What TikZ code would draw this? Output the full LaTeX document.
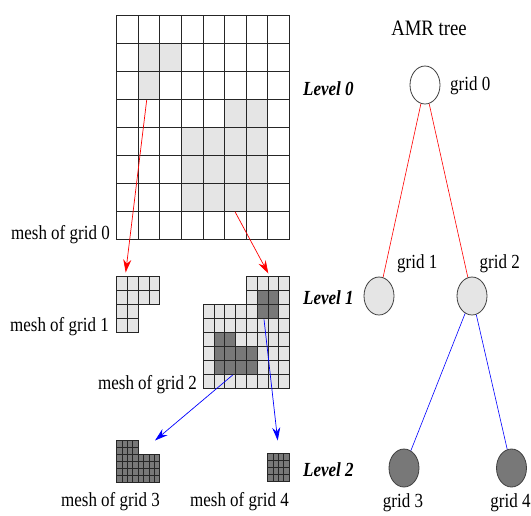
\documentclass[tikz,border=0pt]{standalone}
\usepackage{fontspec}
\setmainfont[FakeStretch=0.85]{Liberation Serif}
\usetikzlibrary{positioning,shapes.geometric,arrows.meta}

\definecolor{lightcell}{gray}{0.9}
\definecolor{darkcell}{gray}{0.47}

\tikzstyle{meshline}=[draw=black!85, line width=0.9pt]
\tikzstyle{treenode}=[draw=black!75, line width=0.8pt, ellipse, minimum width=30pt, minimum height=38pt, inner sep=0pt]
\tikzstyle{lbl}=[font=\fontsize{20}{24}\selectfont, inner sep=0pt]
\tikzstyle{lvl}=[font=\fontsize{20}{24}\selectfont\bfseries\itshape, inner sep=0pt]
\tikzstyle{refine}=[line width=0.7pt, -{Stealth[length=13pt, width=8pt]}]

\begin{document}
\begin{tikzpicture}[x=1pt, y=-1pt]
  \useasboundingbox (0,0) rectangle (531,515);

  % level 0 mesh
  \begin{scope}[shift={(116.7,15.7)}]
    \foreach \c/\r in {1/1,2/1,1/2,5/3,6/3,3/4,4/4,5/4,6/4,3/5,4/5,5/5,6/5,3/6,4/6,5/6,6/6}
      \fill[lightcell] (\c*21.6,\r*28) rectangle ++(21.6,28);
    \foreach \c in {0,...,7}
      \foreach \r in {0,...,7}
        \draw[meshline] (\c*21.6,\r*28) rectangle ++(21.6,28);
  \end{scope}

  % level 1 meshes
  \begin{scope}[shift={(116.7,276)}]
    \foreach \c in {0,...,3}
      \foreach \r in {0,1}
        \filldraw[meshline, fill=lightcell] (\c*10.8,\r*14) rectangle ++(10.8,14);
    \foreach \c in {0,1}
      \foreach \r in {2,3}
        \filldraw[meshline, fill=lightcell] (\c*10.8,\r*14) rectangle ++(10.8,14);
  \end{scope}

  \begin{scope}[shift={(203.3,276)}]
    \foreach \c in {4,...,7}
      \foreach \r in {0,1}
        \filldraw[meshline, fill=lightcell] (\c*10.8,\r*14) rectangle ++(10.8,14);
    \foreach \c in {0,...,7}
      \foreach \r in {2,...,7}
        \filldraw[meshline, fill=lightcell] (\c*10.8,\r*14) rectangle ++(10.8,14);
    \foreach \c/\r in {5/1,6/1,5/2,6/2,1/4,2/4,1/5,2/5,3/5,4/5,1/6,2/6,3/6,4/6}
      \filldraw[meshline, fill=darkcell] (\c*10.8,\r*14) rectangle ++(10.8,14);
  \end{scope}

  % level 2 meshes
  \begin{scope}[shift={(116.7,440.7)}]
    \foreach \c in {0,...,3}
      \foreach \r in {0,1}
        \filldraw[meshline, fill=darkcell] (\c*5.4,\r*7) rectangle ++(5.4,7);
    \foreach \c in {0,...,7}
      \foreach \r in {2,...,5}
        \filldraw[meshline, fill=darkcell] (\c*5.4,\r*7) rectangle ++(5.4,7);
  \end{scope}

  \begin{scope}[shift={(267.7,453.3)}]
    \foreach \c in {0,...,3}
      \foreach \r in {0,...,3}
        \filldraw[meshline, fill=darkcell] (\c*5.4,\r*7) rectangle ++(5.4,7);
  \end{scope}

  % mesh labels
  \node (m0) [lbl, anchor=base east] at (110,239.3) {mesh of grid 0};
  \node (m1) [lbl, anchor=base east] at (109,331.7) {mesh of grid 1};
  \node (m2) [lbl, anchor=base east] at (197,389) {mesh of grid 2};
  \node (m3) [lbl, anchor=base east] at (160,506.5) {mesh of grid 3};
  \node (m4) [lbl, anchor=base east] at (289,506.5) {mesh of grid 4};

  % refinement arrows
  \coordinate (r1s) at (146.7,100);
  \coordinate (r1e) at (125.7,272.5);
  \coordinate (r2s) at (235,211.7);
  \coordinate (r2e) at (268.3,273.5);
  \coordinate (r3s) at (232.7,375);
  \coordinate (r3e) at (155,440.5);
  \coordinate (r4s) at (264,319.3);
  \coordinate (r4e) at (277.7,440.5);
  \draw [refine, red] (r1s) -- (r1e);
  \draw [refine, red] (r2s) -- (r2e);
  \draw [refine, blue] (r3s) -- (r3e);
  \draw [refine, blue] (r4s) -- (r4e);

  % level labels
  \node (lv0) [lvl, anchor=west] at (303,89) {Level 0};
  \node (lv1) [lvl, anchor=west] at (303,297.5) {Level 1};
  \node (lv2) [lvl, anchor=west] at (303,470) {Level 2};

  % AMR tree
  \node (title) [lbl, font=\fontsize{22}{26}\selectfont, anchor=base] at (429,35) {AMR tree};
  \node (g0) [treenode, fill=white] at (425,85) {};
  \node (g1) [treenode, fill=lightcell] at (379,296) {};
  \node (g2) [treenode, fill=lightcell] at (472,296) {};
  \node (g3) [treenode, fill=darkcell] at (404,468) {};
  \node (g4) [treenode, fill=darkcell] at (511.5,468) {};

  \draw [red, line width=0.6pt] (g0) -- (g1);
  \draw [red, line width=0.6pt] (g0) -- (g2);
  \draw [blue, line width=0.6pt] (g2) -- (g3);
  \draw [blue, line width=0.6pt] (g2) -- (g4);

  \node (t0) [lbl, anchor=base west] at (450,90) {grid 0};
  \node (t1) [lbl, anchor=base west] at (397,268.3) {grid 1};
  \node (t2) [lbl, anchor=base west] at (479.5,268.3) {grid 2};
  \node (t3) [lbl, anchor=base] at (403,507.5) {grid 3};
  \node (t4) [lbl, anchor=base] at (510.5,507.5) {grid 4};
\end{tikzpicture}
\end{document}
